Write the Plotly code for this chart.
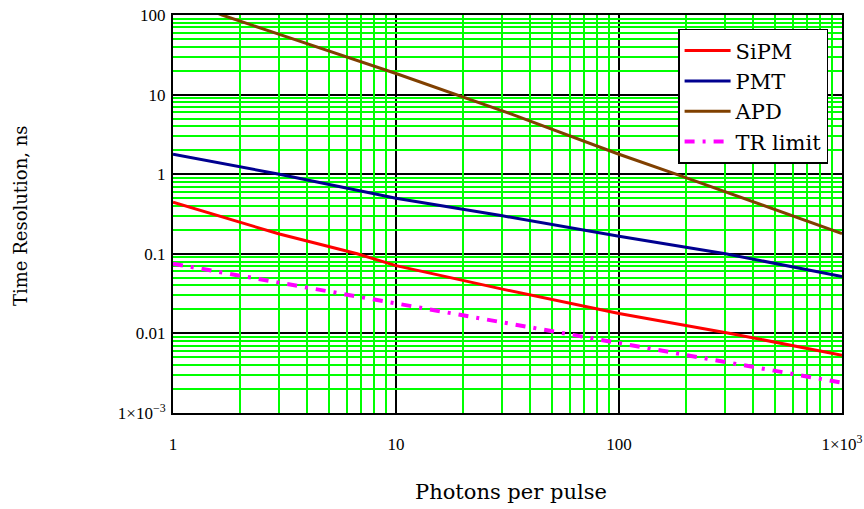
import plotly.graph_objects as go

# Data
sipm_n = [1, 3, 6.7, 10, 30, 100, 316, 1000]
sipm_t = [0.445, 0.177, 0.1, 0.071, 0.036, 0.0178, 0.01, 0.0053]

pmt_n = [1, 3, 10, 30, 100, 300, 1000]
pmt_t = [1.78, 1.0, 0.5, 0.30, 0.166, 0.1, 0.052]

apd_n = [1, 1.66, 3, 10, 32.5, 100, 180, 300, 1000]
apd_t = [175, 100, 57, 18.4, 5.77, 1.78, 1.0, 0.6, 0.18]

tr_n = [1, 2, 5, 10, 20, 50, 100, 200, 500, 1000]
tr_t = [0.075, 0.053, 0.034, 0.0237, 0.0168, 0.0106, 0.0075, 0.0053, 0.0034, 0.0024]

x_tickvals = [1, 10, 100, 1000]
x_ticktext = ["1", "10", "100", "1×10<sup>3</sup>"]
y_tickvals = [0.001, 0.01, 0.1, 1, 10, 100]
y_ticktext = ["1×10<sup>−3</sup>", "0.01", "0.1", "1", "10", "100"]

x_minor = [m * 10 ** k for k in range(0, 3) for m in range(2, 10)]
y_minor = [m * 10.0 ** k for k in range(-3, 2) for m in range(2, 10)]

fig = go.Figure()
# helper trace carrying the overlay (minor-grid) axes
fig.add_trace(go.Scatter(x=tr_n, y=tr_t, mode="none", xaxis="x2", yaxis="y2",
                         showlegend=False, hoverinfo="skip"))
fig.add_trace(go.Scatter(x=sipm_n, y=sipm_t, mode="lines", name="SiPM",
                         line=dict(color="#ff0000", width=3), legendgroup="a"))
fig.add_trace(go.Scatter(x=pmt_n, y=pmt_t, mode="lines", name="PMT",
                         line=dict(color="#000090", width=3), legendgroup="b"))
fig.add_trace(go.Scatter(x=apd_n, y=apd_t, mode="lines", name="APD",
                         line=dict(color="#804000", width=3), legendgroup="c"))
fig.add_trace(go.Scatter(x=tr_n, y=tr_t, mode="lines", name="TR limit",
                         line=dict(color="#ff00ff", width=4, dash="10px,8px,3px,8px"),
                         legendgroup="d"))

axis_font = dict(family="Liberation Serif", size=17, color="black")

fig.update_layout(
    width=864, height=509,
    margin=dict(l=173, r=22, t=15, b=96, autoexpand=False),
    paper_bgcolor="white", plot_bgcolor="white",
    showlegend=True,
    legend=dict(x=0.755, y=0.965, xanchor="left", yanchor="top",
                bgcolor="white", bordercolor="black", borderwidth=1.5,
                font=dict(family="DejaVu Serif", size=21, color="black"),
                itemwidth=46,
                traceorder="grouped", tracegroupgap=0),
    xaxis=dict(type="log", range=[0, 3], tickmode="array", automargin=False,
               tickvals=x_tickvals, ticktext=x_ticktext, ticks="",
               tickfont=axis_font, ticklabelstandoff=15,
               showgrid=True, gridcolor="black", gridwidth=1.5,
               showline=True, linecolor="black", linewidth=2, mirror=True,
               zeroline=False),
    yaxis=dict(type="log", range=[-3, 2], tickmode="array", automargin=False,
               tickvals=y_tickvals, ticktext=y_ticktext, ticks="",
               tickfont=axis_font, ticklabelstandoff=2,
               showgrid=True, gridcolor="black", gridwidth=1.5,
               showline=True, linecolor="black", linewidth=2, mirror=True,
               zeroline=False),
    xaxis2=dict(type="log", range=[0, 3], overlaying="x", anchor="y",
                tickmode="array", tickvals=x_minor, showticklabels=False,
                ticks="", showgrid=True, gridcolor="#00ff00", gridwidth=2,
                showline=False, zeroline=False, automargin=False),
    yaxis2=dict(type="log", range=[-3, 2], overlaying="y", anchor="x",
                tickmode="array", tickvals=y_minor, showticklabels=False,
                ticks="", showgrid=True, gridcolor="#00ff00", gridwidth=2,
                showline=False, zeroline=False, automargin=False),
    annotations=[
        dict(text="Photons per pulse", x=0.505, y=-0.198, xref="paper", yref="paper",
             xanchor="center", yanchor="middle", showarrow=False,
             font=dict(family="DejaVu Serif", size=21, color="black")),
        dict(text="Time Resolution, ns", x=-0.229, y=0.497, xref="paper", yref="paper",
             xanchor="center", yanchor="middle", showarrow=False, textangle=-90,
             font=dict(family="DejaVu Serif", size=18, color="black")),
    ],
)

fig.write_html("out.html")
